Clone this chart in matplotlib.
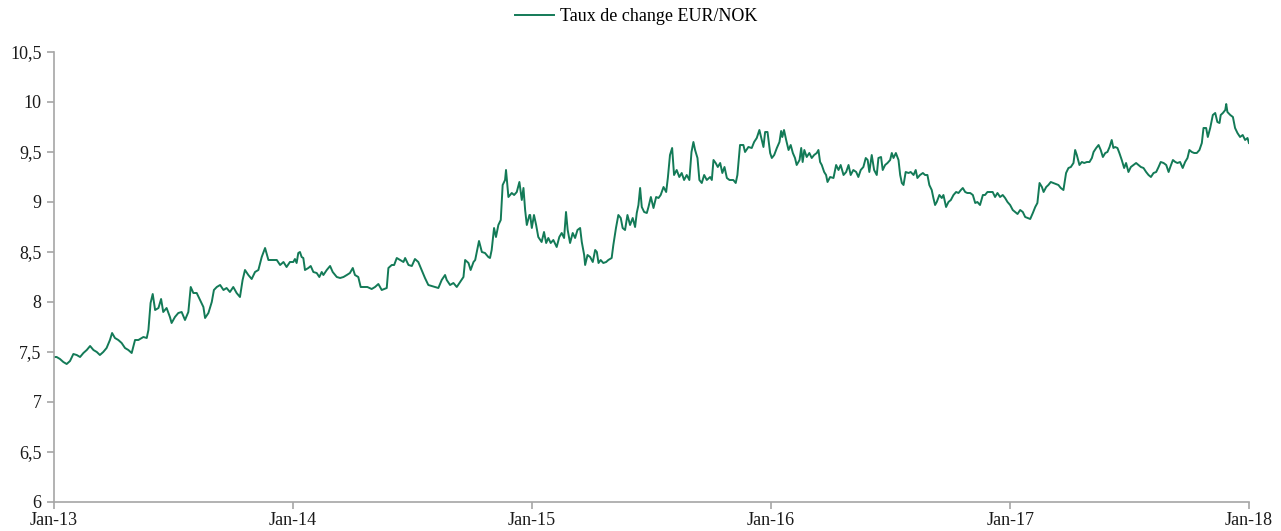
import pandas as pd
import numpy as np
import matplotlib.pyplot as plt

# decimal years, with the EUR/NOK rate at each point
years_2013 = [2013.000, 2013.011, 2013.025, 2013.039, 2013.053, 2013.067, 2013.081, 2013.095,
              2013.109, 2013.123, 2013.137, 2013.151, 2013.165, 2013.179, 2013.192, 2013.206,
              2013.220, 2013.234, 2013.243, 2013.255, 2013.269, 2013.283, 2013.297, 2013.311,
              2013.325, 2013.339, 2013.353, 2013.374, 2013.388, 2013.395, 2013.404, 2013.413,
              2013.423, 2013.437, 2013.448, 2013.457, 2013.471, 2013.485, 2013.492, 2013.506,
              2013.520, 2013.534, 2013.548, 2013.562, 2013.572, 2013.583, 2013.597, 2013.611,
              2013.625, 2013.632, 2013.646, 2013.660, 2013.669, 2013.681, 2013.695, 2013.709,
              2013.722, 2013.736, 2013.750, 2013.764, 2013.778, 2013.789, 2013.799, 2013.813,
              2013.827, 2013.841, 2013.855, 2013.869, 2013.883, 2013.897, 2013.911, 2013.932,
              2013.946, 2013.960, 2013.973, 2013.987]
rate_2013 = [7.45, 7.45, 7.43, 7.40, 7.38, 7.41, 7.48, 7.47,
             7.45, 7.49, 7.52, 7.56, 7.52, 7.50, 7.47, 7.50,
             7.54, 7.62, 7.69, 7.64, 7.62, 7.59, 7.54, 7.52,
             7.49, 7.62, 7.62, 7.65, 7.64, 7.72, 7.99, 8.08,
             7.92, 7.94, 8.03, 7.90, 7.94, 7.85, 7.79, 7.85,
             7.89, 7.90, 7.82, 7.90, 8.15, 8.09, 8.09, 8.02,
             7.95, 7.84, 7.89, 8.00, 8.12, 8.15, 8.17, 8.12,
             8.14, 8.10, 8.15, 8.09, 8.05, 8.22, 8.32, 8.27,
             8.23, 8.30, 8.32, 8.45, 8.54, 8.42, 8.42, 8.42,
             8.37, 8.40, 8.35, 8.40]

years_2014 = [2014.001, 2014.008, 2014.015, 2014.022, 2014.029, 2014.036, 2014.043, 2014.050,
              2014.064, 2014.074, 2014.085, 2014.099, 2014.110, 2014.120, 2014.127, 2014.141,
              2014.155, 2014.166, 2014.183, 2014.197, 2014.211, 2014.225, 2014.238, 2014.250,
              2014.259, 2014.273, 2014.283, 2014.294, 2014.311, 2014.329, 2014.343, 2014.357,
              2014.371, 2014.392, 2014.399, 2014.413, 2014.423, 2014.434, 2014.448, 2014.462,
              2014.469, 2014.483, 2014.497, 2014.510, 2014.524, 2014.538, 2014.552, 2014.566,
              2014.580, 2014.594, 2014.608, 2014.622, 2014.636, 2014.643, 2014.657, 2014.671,
              2014.685, 2014.699, 2014.713, 2014.720, 2014.734, 2014.743, 2014.755, 2014.762,
              2014.768, 2014.778, 2014.790, 2014.803, 2014.817, 2014.824, 2014.831, 2014.841,
              2014.849, 2014.859, 2014.869, 2014.877, 2014.887, 2014.891, 2014.901, 2014.915,
              2014.925, 2014.936, 2014.947, 2014.957, 2014.964, 2014.971, 2014.978, 2014.989]
rate_2014 = [8.40, 8.43, 8.39, 8.49, 8.50, 8.45, 8.44, 8.32,
             8.34, 8.36, 8.30, 8.29, 8.25, 8.30, 8.27, 8.32,
             8.36, 8.30, 8.25, 8.24, 8.25, 8.27, 8.29, 8.34,
             8.27, 8.25, 8.15, 8.15, 8.15, 8.13, 8.15, 8.18,
             8.12, 8.14, 8.34, 8.37, 8.37, 8.44, 8.42, 8.40,
             8.44, 8.37, 8.36, 8.43, 8.40, 8.32, 8.24, 8.17,
             8.16, 8.15, 8.14, 8.22, 8.27, 8.22, 8.17, 8.19,
             8.15, 8.20, 8.25, 8.42, 8.39, 8.32, 8.40, 8.42,
             8.49, 8.61, 8.50, 8.49, 8.45, 8.44, 8.52, 8.74,
             8.65, 8.77, 8.82, 9.17, 9.22, 9.32, 9.05, 9.09,
             9.07, 9.10, 9.20, 9.02, 9.14, 8.92, 8.77, 8.87]

years_2015 = [2014.992, 2014.999, 2015.008, 2015.017, 2015.026, 2015.040, 2015.050, 2015.059,
              2015.068, 2015.078, 2015.089, 2015.103, 2015.114, 2015.124, 2015.134, 2015.142,
              2015.149, 2015.159, 2015.170, 2015.180, 2015.190, 2015.201, 2015.208, 2015.218,
              2015.222, 2015.232, 2015.243, 2015.254, 2015.264, 2015.271, 2015.278, 2015.287,
              2015.298, 2015.310, 2015.319, 2015.333, 2015.340, 2015.351, 2015.361, 2015.371,
              2015.379, 2015.389, 2015.399, 2015.410, 2015.421, 2015.431, 2015.438, 2015.445,
              2015.452, 2015.459, 2015.469, 2015.480, 2015.487, 2015.497, 2015.508, 2015.519,
              2015.529, 2015.538, 2015.550, 2015.561, 2015.568, 2015.577, 2015.586, 2015.594,
              2015.605, 2015.616, 2015.626, 2015.636, 2015.647, 2015.658, 2015.667, 2015.675,
              2015.682, 2015.692, 2015.700, 2015.710, 2015.720, 2015.731, 2015.745, 2015.752,
              2015.759, 2015.768, 2015.777, 2015.787, 2015.796, 2015.805, 2015.815, 2015.826,
              2015.842, 2015.852, 2015.859, 2015.870, 2015.884, 2015.891, 2015.905, 2015.919,
              2015.929, 2015.940, 2015.951, 2015.958, 2015.968, 2015.975, 2015.985]
rate_2015 = [8.87, 8.74, 8.87, 8.77, 8.65, 8.60, 8.70, 8.59,
             8.64, 8.59, 8.62, 8.55, 8.65, 8.69, 8.64, 8.90,
             8.72, 8.59, 8.69, 8.64, 8.72, 8.74, 8.60, 8.47,
             8.37, 8.47, 8.45, 8.40, 8.52, 8.50, 8.39, 8.42,
             8.39, 8.40, 8.42, 8.44, 8.57, 8.74, 8.87, 8.84,
             8.74, 8.72, 8.87, 8.77, 8.84, 8.75, 8.89, 8.97,
             9.14, 8.95, 8.90, 8.89, 8.95, 9.05, 8.94, 9.05,
             9.04, 9.07, 9.15, 9.10, 9.24, 9.47, 9.54, 9.27,
             9.32, 9.25, 9.29, 9.22, 9.27, 9.22, 9.50, 9.60,
             9.52, 9.44, 9.22, 9.19, 9.27, 9.22, 9.25, 9.22,
             9.42, 9.39, 9.35, 9.39, 9.29, 9.35, 9.24, 9.22,
             9.22, 9.19, 9.27, 9.57, 9.57, 9.50, 9.55, 9.54,
             9.60, 9.64, 9.72, 9.65, 9.55, 9.70, 9.70]

years_2016 = [2015.996, 2016.003, 2016.013, 2016.024, 2016.035, 2016.042, 2016.047, 2016.054,
              2016.063, 2016.073, 2016.082, 2016.091, 2016.100, 2016.107, 2016.119, 2016.126,
              2016.132, 2016.139, 2016.149, 2016.160, 2016.170, 2016.180, 2016.191, 2016.198,
              2016.205, 2016.212, 2016.222, 2016.230, 2016.236, 2016.247, 2016.261, 2016.272,
              2016.282, 2016.291, 2016.303, 2016.314, 2016.324, 2016.333, 2016.344, 2016.356,
              2016.365, 2016.375, 2016.386, 2016.396, 2016.404, 2016.411, 2016.421, 2016.431,
              2016.442, 2016.449, 2016.460, 2016.467, 2016.477, 2016.487, 2016.498, 2016.505,
              2016.512, 2016.522, 2016.533, 2016.540, 2016.547, 2016.554, 2016.563, 2016.575,
              2016.584, 2016.596, 2016.605, 2016.612, 2016.623, 2016.635, 2016.644, 2016.654,
              2016.662, 2016.672, 2016.679, 2016.686, 2016.693, 2016.704, 2016.714, 2016.721,
              2016.732, 2016.742, 2016.752, 2016.763, 2016.774, 2016.784, 2016.794, 2016.802,
              2016.812, 2016.821, 2016.833, 2016.844, 2016.854, 2016.863, 2016.874, 2016.886,
              2016.895, 2016.905, 2016.916, 2016.927, 2016.937, 2016.947, 2016.958, 2016.969,
              2016.979, 2016.989]
rate_2016 = [9.49, 9.44, 9.47, 9.54, 9.60, 9.71, 9.65, 9.72,
             9.62, 9.52, 9.57, 9.49, 9.44, 9.37, 9.42, 9.54,
             9.40, 9.52, 9.45, 9.49, 9.44, 9.47, 9.49, 9.52,
             9.40, 9.37, 9.30, 9.27, 9.20, 9.25, 9.24, 9.37,
             9.32, 9.37, 9.27, 9.30, 9.37, 9.27, 9.32, 9.30,
             9.25, 9.32, 9.35, 9.44, 9.42, 9.30, 9.47, 9.32,
             9.27, 9.44, 9.45, 9.32, 9.37, 9.39, 9.42, 9.49,
             9.44, 9.49, 9.42, 9.27, 9.19, 9.17, 9.30, 9.29,
             9.30, 9.27, 9.32, 9.24, 9.27, 9.29, 9.27, 9.27,
             9.17, 9.12, 9.04, 8.97, 9.00, 9.07, 9.04, 9.07,
             8.95, 9.00, 9.02, 9.07, 9.10, 9.09, 9.12, 9.14,
             9.10, 9.09, 9.09, 9.07, 8.99, 9.00, 8.97, 9.07,
             9.07, 9.10, 9.10, 9.10, 9.05, 9.09, 9.05, 9.07,
             9.04, 9.00]

years_2017 = [2017.000, 2017.011, 2017.021, 2017.031, 2017.042, 2017.053, 2017.063, 2017.073,
              2017.084, 2017.095, 2017.105, 2017.114, 2017.123, 2017.133, 2017.140, 2017.151,
              2017.160, 2017.170, 2017.181, 2017.192, 2017.202, 2017.212, 2017.223, 2017.234,
              2017.244, 2017.254, 2017.265, 2017.272, 2017.279, 2017.290, 2017.300, 2017.310,
              2017.321, 2017.332, 2017.342, 2017.349, 2017.360, 2017.370, 2017.379, 2017.388,
              2017.398, 2017.407, 2017.416, 2017.425, 2017.432, 2017.439, 2017.449, 2017.457,
              2017.467, 2017.477, 2017.485, 2017.495, 2017.505, 2017.516, 2017.527, 2017.537,
              2017.547, 2017.558, 2017.569, 2017.579, 2017.589, 2017.600, 2017.611, 2017.621,
              2017.630, 2017.642, 2017.653, 2017.663, 2017.670, 2017.681, 2017.691, 2017.700,
              2017.711, 2017.722, 2017.732, 2017.742, 2017.750, 2017.760, 2017.770, 2017.781,
              2017.792, 2017.802, 2017.809, 2017.820, 2017.827, 2017.837, 2017.848, 2017.858,
              2017.867, 2017.876, 2017.881, 2017.890, 2017.900, 2017.904, 2017.909, 2017.921,
              2017.932, 2017.941, 2017.951, 2017.962, 2017.973, 2017.983, 2017.993, 2017.999]
rate_2017 = [8.97, 8.92, 8.90, 8.88, 8.92, 8.90, 8.85, 8.84,
             8.83, 8.89, 8.95, 8.99, 9.19, 9.15, 9.10, 9.15,
             9.17, 9.20, 9.19, 9.18, 9.17, 9.14, 9.12, 9.29,
             9.34, 9.35, 9.39, 9.52, 9.47, 9.37, 9.40, 9.39,
             9.40, 9.40, 9.44, 9.50, 9.54, 9.57, 9.52, 9.45,
             9.49, 9.50, 9.55, 9.62, 9.54, 9.55, 9.54, 9.49,
             9.42, 9.34, 9.39, 9.30, 9.35, 9.37, 9.39, 9.37,
             9.35, 9.34, 9.30, 9.27, 9.25, 9.29, 9.30, 9.35,
             9.40, 9.39, 9.37, 9.30, 9.35, 9.42, 9.40, 9.39,
             9.40, 9.34, 9.40, 9.44, 9.52, 9.50, 9.49, 9.49,
             9.52, 9.59, 9.74, 9.74, 9.65, 9.74, 9.87, 9.89,
             9.80, 9.79, 9.87, 9.89, 9.92, 9.98, 9.90, 9.87,
             9.85, 9.74, 9.69, 9.65, 9.67, 9.62, 9.64, 9.59]

years = years_2013 + years_2014 + years_2015 + years_2016 + years_2017
rate = rate_2013 + rate_2014 + rate_2015 + rate_2016 + rate_2017

y_ticks = [6, 6.5, 7, 7.5, 8, 8.5, 9, 9.5, 10, 10.5]
x_labels = ['Jan-13', 'Jan-14', 'Jan-15', 'Jan-16', 'Jan-17', 'Jan-18']


def to_dates(t):
    t = np.asarray(t)
    return pd.Timestamp('2013-01-01') + pd.to_timedelta((t - 2013) * 365.25, unit='D')


def main():
    plt.rcParams['font.family'] = ['Liberation Serif', 'DejaVu Serif']
    fig = plt.figure(figsize=(12.81, 5.31), dpi=100)
    ax = fig.add_axes([54 / 1281, 29 / 531, 1195 / 1281, 450 / 531])

    ax.plot(to_dates(years), rate, color='#137a57', lw=1.4, label='Taux de change EUR/NOK')

    ax.set_xlim(pd.Timestamp('2013-01-01'), pd.Timestamp('2018-01-01'))
    ax.set_ylim(6, 10.5)
    ax.set_yticks(y_ticks)
    ax.set_yticklabels([('%g' % v).replace('.', ',') for v in y_ticks])
    xt = [pd.Timestamp('%d-01-01' % y) for y in range(2013, 2019)]
    ax.set_xticks(xt)
    ax.set_xticklabels(x_labels)

    for s in ['top', 'right']:
        ax.spines[s].set_visible(False)
    for s in ['left', 'bottom']:
        ax.spines[s].set_color('#a6a6a6')
        ax.spines[s].set_linewidth(1.2)
    ax.tick_params(axis='both', colors='#a6a6a6', length=5, width=1.2,
                   labelcolor='#1a1a1a', labelsize=13)
    ax.tick_params(axis='y', pad=4)
    ax.tick_params(axis='x', pad=2)

    fig.legend(loc='center', bbox_to_anchor=(636 / 1281, 1 - 17 / 531), frameon=False,
               fontsize=13, handlelength=2.2, handletextpad=0.3)

    fig.savefig('out.png', dpi=100)


if __name__ == '__main__':
    main()
